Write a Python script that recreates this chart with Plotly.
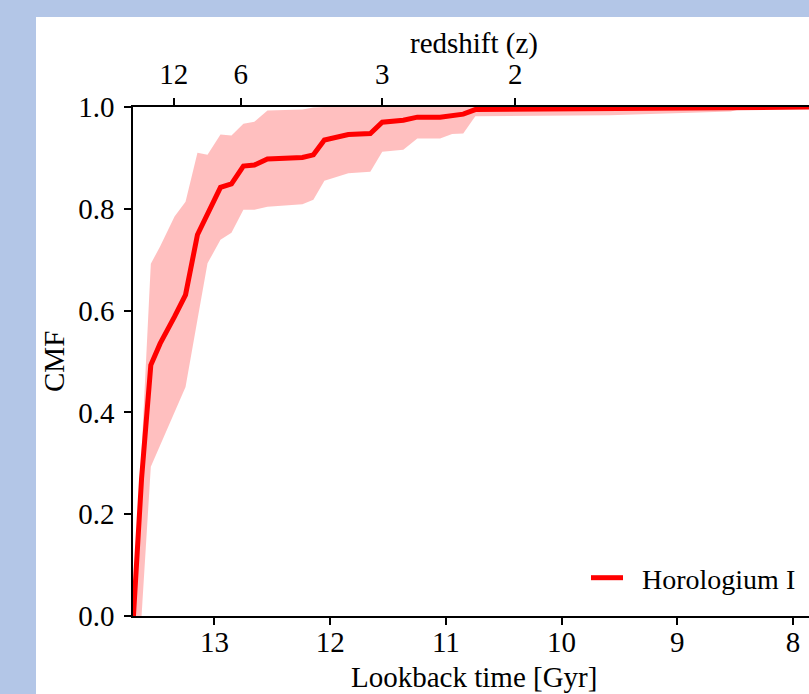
import plotly.graph_objects as go

# Lookback time [Gyr] grid
lookback = [13.70, 13.63, 13.55, 13.47, 13.345, 13.25, 13.147, 13.06, 12.948, 12.853,
            12.75, 12.655, 12.542, 12.24, 12.145, 12.05, 11.843, 11.653, 11.55, 11.368,
            11.247, 11.05, 10.946, 10.85, 10.746, 9.58, 8.54, 8.41, 7.80]
cmf_median = [0.0, 0.27, 0.493, 0.535, 0.588, 0.631, 0.749, 0.792, 0.842, 0.849,
              0.884, 0.886, 0.898, 0.901, 0.906, 0.935, 0.946, 0.948, 0.970, 0.974,
              0.980, 0.980, 0.983, 0.986, 0.995, 0.996, 0.997, 0.999, 1.0]
cmf_upper = [0.0, 0.33, 0.692, 0.726, 0.785, 0.814, 0.910, 0.906, 0.946, 0.944,
             0.967, 0.971, 0.993, 0.995, 0.999, 1.0, 1.0, 1.0, 1.0, 1.0,
             1.0, 1.0, 1.0, 1.0, 1.0, 1.0, 1.0, 1.0, 1.0]
cmf_lower = [0.0, 0.0, 0.293, 0.335, 0.399, 0.450, 0.582, 0.693, 0.739, 0.753,
             0.798, 0.798, 0.804, 0.809, 0.818, 0.855, 0.870, 0.873, 0.912, 0.916,
             0.938, 0.938, 0.947, 0.948, 0.982, 0.984, 0.991, 0.998, 1.0]

# Redshift ticks on the top axis (positions in lookback time)
z_tick_lookback = [13.351, 12.773, 11.55, 10.40]
z_tick_labels = ["12", "6", "3", "2"]

x_ticks = [13, 12, 11, 10, 9, 8]
y_ticks = [0.0, 0.2, 0.4, 0.6, 0.8, 1.0]

x_range = [13.704, 7.862]
FONT = "Liberation Serif"

fig = go.Figure()
fig.add_trace(go.Scatter(x=lookback, y=cmf_lower, mode="lines",
                         line=dict(width=0, color="rgba(0,0,0,0)"),
                         showlegend=False, hoverinfo="skip"))
fig.add_trace(go.Scatter(x=lookback, y=cmf_upper, mode="lines",
                         line=dict(width=0, color="rgba(0,0,0,0)"),
                         fill="tonexty", fillcolor="rgba(255,0,0,0.25)",
                         showlegend=False, hoverinfo="skip"))
fig.add_trace(go.Scatter(x=lookback, y=cmf_median, mode="lines",
                         line=dict(width=5, color="#ff0000"),
                         name="\u00a0\u00a0Horologium I"))
# dummy trace to instantiate the top axis
fig.add_trace(go.Scatter(x=lookback, y=cmf_median, mode="lines", xaxis="x2",
                         line=dict(width=0, color="rgba(0,0,0,0)"),
                         showlegend=False, hoverinfo="skip"))

L, T = 133, 107
W, H = 809, 694
pw, ph = W - L, 616 - T

def px_x(p):
    return (p - L) / pw

def px_y(p):
    return (616 - p) / ph

axis_common = dict(ticks="outside", ticklen=7, tickwidth=1.5, tickcolor="black",
                   showline=True, linewidth=1.5, linecolor="black",
                   showgrid=False, zeroline=False,
                   tickfont=dict(family=FONT, size=29))

fig.update_layout(
    width=W, height=H,
    margin=dict(l=L, r=0, t=T, b=H - 616, pad=0),
    paper_bgcolor="#b3c6e7",
    plot_bgcolor="white",
    font=dict(family=FONT, color="black", size=28),
    xaxis=dict(range=x_range, tickvals=x_ticks, ticklabelstandoff=-8, **axis_common),
    xaxis2=dict(range=x_range, overlaying="x", side="top",
                tickvals=z_tick_lookback, ticktext=z_tick_labels,
                ticklabelstandoff=3, **axis_common),
    yaxis=dict(range=[0, 1], tickvals=y_ticks, tickformat=".1f",
               ticklabelstandoff=4, **axis_common),
    legend=dict(x=px_x(586), y=px_y(578), xanchor="left", yanchor="middle",
                bgcolor="rgba(0,0,0,0)", borderwidth=0, itemwidth=32,
                font=dict(family=FONT, size=28)),
    shapes=[dict(type="rect", xref="paper", yref="paper",
                 x0=px_x(36), x1=1.3, y0=-0.4, y1=px_y(17),
                 fillcolor="white", line=dict(width=0), layer="below")],
    annotations=[
        dict(text="Lookback time [Gyr]", xref="paper", yref="paper",
             x=px_x(474), y=px_y(677), showarrow=False,
             xanchor="center", yanchor="middle", font=dict(family=FONT, size=29)),
        dict(text="redshift (z)", xref="paper", yref="paper",
             x=px_x(474), y=px_y(44), showarrow=False,
             xanchor="center", yanchor="middle", font=dict(family=FONT, size=29)),
        dict(text="CMF", xref="paper", yref="paper", textangle=-90,
             x=px_x(54), y=px_y(362), showarrow=False,
             xanchor="center", yanchor="middle", font=dict(family=FONT, size=29)),
    ],
)

fig.write_html("out.html")
